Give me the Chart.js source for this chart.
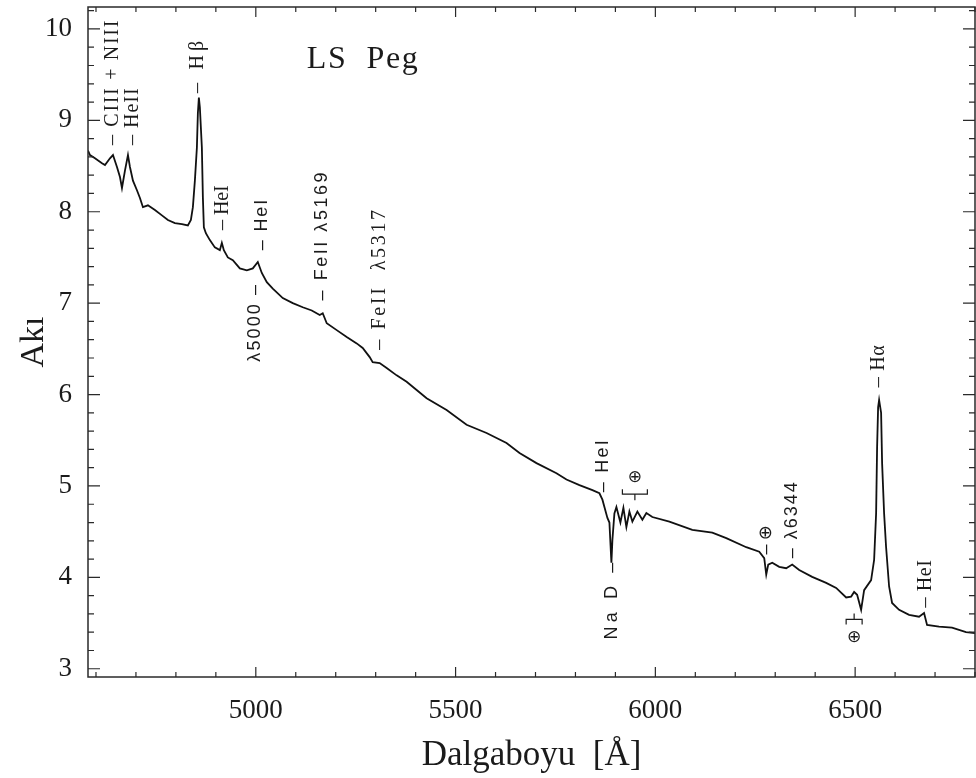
<!DOCTYPE html>
<html>
<head>
<meta charset="utf-8">
<script src="https://cdn.jsdelivr.net/npm/chart.js@4.4.1/dist/chart.umd.min.js"></script>
<style>
  html, body { margin: 0; padding: 0; background: #fff; }
  canvas { display: block; }
</style>
</head>
<body>
<canvas id="spec" width="976" height="778"></canvas>
<script>
// LS Peg optical spectrum: wavelength (Å) and relative flux
const wavelength = [
  4580, 4585, 4597.5, 4615, 4622.5, 4635, 4642.5, 4652.5, 4660, 4665,
  4672.5, 4680, 4685, 4692.5, 4702.5, 4710, 4717.5, 4730, 4747.5, 4765,
  4780, 4797.5, 4815, 4830, 4837.5, 4842.5, 4847.5, 4852.5, 4855, 4857.5,
  4860, 4865, 4867.5, 4870, 4875, 4885, 4897.5, 4910, 4915, 4920,
  4930, 4942.5, 4960, 4977.5, 4992.5, 5005, 5015, 5027.5, 5042.5, 5067.5,
  5092.5, 5117.5, 5140, 5160, 5167.5, 5177.5, 5202.5, 5227.5, 5252.5, 5267.5,
  5285, 5292.5, 5310, 5327.5, 5352.5, 5377.5, 5402.5, 5427.5, 5477.5, 5527.5,
  5577.5, 5627.5, 5660, 5702.5, 5752.5, 5777.5, 5810, 5842.5, 5860, 5867.5,
  5872.5, 5880, 5885, 5890, 5892.5, 5897.5, 5902.5, 5912.5, 5920, 5927.5,
  5935, 5942.5, 5955, 5967.5, 5977.5, 5992.5, 6035, 6092.5, 6142.5, 6177.5,
  6227.5, 6260, 6272.5, 6277.5, 6282.5, 6292.5, 6310, 6327.5, 6342.5, 6360,
  6392.5, 6427.5, 6452.5, 6477.5, 6490, 6497.5, 6505, 6515, 6522.5, 6540,
  6547.5, 6552.5, 6555, 6557.5, 6560, 6562.5, 6565, 6567.5, 6572.5, 6577.5,
  6585, 6592.5, 6610, 6635, 6660, 6672.5, 6680, 6710, 6742.5, 6777.5, 6800
];
const flux = [
  8.67, 8.62, 8.585, 8.53, 8.51, 8.585, 8.62, 8.49, 8.38, 8.26,
  8.45, 8.62, 8.49, 8.34, 8.235, 8.15, 8.05, 8.07, 8.02, 7.96,
  7.91, 7.875, 7.865, 7.85, 7.91, 8.05, 8.34, 8.70, 9.08, 9.25,
  9.14, 8.70, 8.16, 7.83, 7.765, 7.69, 7.61, 7.58, 7.66, 7.58,
  7.50, 7.47, 7.38, 7.36, 7.38, 7.45, 7.33, 7.23, 7.16, 7.055,
  7.00, 6.955, 6.92, 6.87, 6.89, 6.78, 6.705, 6.63, 6.56, 6.51,
  6.41, 6.355, 6.345, 6.29, 6.21, 6.14, 6.05, 5.96, 5.83, 5.67,
  5.58, 5.47, 5.36, 5.25, 5.14, 5.07, 5.01, 4.955, 4.92, 4.85,
  4.77, 4.65, 4.60, 4.16, 4.41, 4.70, 4.77, 4.60, 4.76, 4.55,
  4.72, 4.61, 4.72, 4.63, 4.705, 4.66, 4.61, 4.52, 4.49, 4.43,
  4.33, 4.28, 4.21, 4.03, 4.14, 4.16, 4.115, 4.10, 4.14, 4.08,
  4.005, 3.94, 3.885, 3.78, 3.79, 3.84, 3.81, 3.645, 3.86, 3.97,
  4.19, 4.70, 5.43, 5.86, 5.94, 5.87, 5.80, 5.25, 4.70, 4.33,
  3.90, 3.72, 3.645, 3.59, 3.57, 3.61, 3.48, 3.46, 3.45, 3.40, 3.39
];

// Axis ticks with labels
const xTickLabels = [5000, 5500, 6000, 6500];
const yTickLabels = [3, 4, 5, 6, 7, 8, 9, 10];

// Line identifications: text, wavelength of the column, flux span (start -> end of the rotated text)
const lineIds = [
  { text: '\u2013 CIII + NIII', at: 4642.5, from: 8.73, to: 10.09, serif: true },
  { text: '\u2013 HeII',        at: 4692.5, from: 8.73, to: 9.35,  serif: true },
  { text: '\u2013 H\u03B2',     at: 4855,   from: 9.30, to: 9.87,  serif: true },
  { text: '\u2013 HeI',         at: 4917.5, from: 7.80, to: 8.29,  serif: true },
  { text: '\u2013 HeI',         at: 5015,   from: 7.58, to: 8.13,  serif: false },
  { text: '\u03BB5000 \u2013',  at: 4997.5, from: 6.36, to: 7.20,  serif: false },
  { text: '\u2013 FeII \u03BB5169', at: 5165, from: 7.03, to: 8.43, serif: false },
  { text: '\u2013 FeII  \u03BB5317', at: 5310, from: 6.49, to: 8.02, serif: true },
  { text: '\u2013 HeI',         at: 5870,   from: 4.93, to: 5.50,  serif: false },
  { text: 'Na D \u2013',        at: 5892.5, from: 3.32, to: 4.16,  serif: false },
  { text: '\u2013 \u2295',      at: 6277.5, from: 4.25, to: 4.57,  serif: false },
  { text: '\u2013 \u03BB6344',  at: 6342.5, from: 4.21, to: 5.04,  serif: false },
  { text: '\u2013 H\u03B1',     at: 6560,   from: 6.08, to: 6.54,  serif: true },
  { text: '\u2013 HeI',         at: 6677.5, from: 3.67, to: 4.19,  serif: true }
];

// Telluric band brackets: wavelength range, flux level of the bar, side of the legs
const telluric = [
  { lo: 5917.5, hi: 5980, level: 4.91, legs: -1, mark: 5.09 },
  { lo: 6477.5, hi: 6517.5, level: 3.54, legs: 1, mark: 3.34 }
];

const SERIF = '"Liberation Serif", "Times New Roman", serif';
const SANS = '"Liberation Sans", "DejaVu Sans", Arial, sans-serif';
const INK = '#1b1b1b';

function drawSpaced(ctx, text, length) {
  const chars = Array.from(text);
  const widths = chars.map(c => ctx.measureText(c).width);
  const total = widths.reduce((a, b) => a + b, 0);
  const gap = chars.length > 1 ? (length - total) / (chars.length - 1) : 0;
  let p = 0;
  chars.forEach((c, i) => { ctx.fillText(c, p, 0); p += widths[i] + gap; });
}

// Box with inward ticks on all four sides
const framePlugin = {
  id: 'frame',
  afterDatasetsDraw(chart) {
    const { ctx, chartArea: a, scales: { x, y } } = chart;
    ctx.save();
    ctx.strokeStyle = '#2a2a2a';
    ctx.lineWidth = 1.5;
    ctx.strokeRect(a.left, a.top, a.right - a.left, a.bottom - a.top);
    ctx.lineWidth = 1.2;
    ctx.beginPath();
    for (let w = 4600; w <= 6800; w += 100) {
      const px = x.getPixelForValue(w);
      const len = (w % 500 === 0) ? 10 : 5;
      ctx.moveTo(px, a.bottom); ctx.lineTo(px, a.bottom - len);
      ctx.moveTo(px, a.top); ctx.lineTo(px, a.top + len);
    }
    for (let k = 15; k <= 51; k++) {
      const v = k / 5;
      const py = y.getPixelForValue(v);
      const len = (k % 5 === 0) ? 12 : 6;
      ctx.moveTo(a.left, py); ctx.lineTo(a.left + len, py);
      ctx.moveTo(a.right, py); ctx.lineTo(a.right - len, py);
    }
    ctx.stroke();
    ctx.restore();
  }
};

// Object name and spectral line identifications
const labelPlugin = {
  id: 'lineIds',
  afterDatasetsDraw(chart) {
    const { ctx, scales: { x, y } } = chart;
    ctx.save();
    ctx.fillStyle = INK;
    ctx.strokeStyle = INK;

    // object name
    ctx.font = '32px ' + SERIF;
    ctx.textBaseline = 'alphabetic';
    ctx.textAlign = 'left';
    ctx.save();
    ctx.translate(x.getPixelForValue(5127.5), y.getPixelForValue(9.57));
    drawSpaced(ctx, 'LS  Peg', 111);
    ctx.restore();

    // rotated identifications
    lineIds.forEach(l => {
      const px = x.getPixelForValue(l.at);
      const y0 = y.getPixelForValue(l.from);
      const y1 = y.getPixelForValue(l.to);
      ctx.save();
      ctx.font = l.serif ? ('20px ' + SERIF) : ('18px ' + SANS);
      ctx.translate(px, y0);
      ctx.rotate(-Math.PI / 2);
      ctx.textBaseline = 'middle';
      ctx.textAlign = 'left';
      drawSpaced(ctx, l.text, y0 - y1);
      ctx.restore();
    });

    // telluric brackets
    ctx.lineWidth = 1.2;
    telluric.forEach(t => {
      const xl = x.getPixelForValue(t.lo), xr = x.getPixelForValue(t.hi);
      const xm = (xl + xr) / 2;
      const yb = y.getPixelForValue(t.level);
      const legs = 5 * t.legs;
      const ym = y.getPixelForValue(t.mark);
      ctx.beginPath();
      ctx.moveTo(xl, yb + legs); ctx.lineTo(xl, yb); ctx.lineTo(xr, yb); ctx.lineTo(xr, yb + legs);
      ctx.moveTo(xm, yb); ctx.lineTo(xm, yb - legs * 1.2);
      ctx.stroke();
      ctx.font = '17px ' + SANS;
      ctx.textAlign = 'center';
      ctx.textBaseline = 'middle';
      ctx.fillText('\u2295', xm, ym);
    });
    ctx.restore();
  }
};

const points = wavelength.map((w, i) => ({ x: w, y: flux[i] }));

new Chart(document.getElementById('spec').getContext('2d'), {
  type: 'line',
  data: {
    datasets: [{
      data: points,
      borderColor: '#111',
      borderWidth: 1.8,
      pointRadius: 0,
      tension: 0,
      fill: false
    }]
  },
  options: {
    responsive: false,
    animation: false,
    devicePixelRatio: 1,
    layout: { padding: { top: 7, right: 1, left: 0, bottom: 0 } },
    plugins: { legend: { display: false }, tooltip: { enabled: false } },
    scales: {
      x: {
        type: 'linear',
        min: 4580,
        max: 6800,
        grid: { display: false, drawTicks: false },
        border: { display: false },
        afterBuildTicks: s => { s.ticks = xTickLabels.map(v => ({ value: v })); },
        afterFit: s => {
          s.height = 101;
          s.paddingLeft = 0; s.paddingRight = 0; s.paddingTop = 0; s.paddingBottom = 0;
        },
        ticks: {
          color: INK,
          padding: 18,
          maxRotation: 0,
          font: { family: SERIF, size: 27 },
          callback: v => String(v)
        },
        title: {
          display: true,
          text: 'Dalgaboyu  [\u00C5]',
          color: INK,
          font: { family: SERIF, size: 35 },
          padding: { top: 0, bottom: 1 }
        }
      },
      y: {
        type: 'linear',
        min: 2.91,
        max: 10.24,
        grid: { display: false, drawTicks: false },
        border: { display: false },
        afterBuildTicks: s => { s.ticks = yTickLabels.map(v => ({ value: v })); },
        afterFit: s => {
          s.width = 88;
          s.paddingLeft = 0; s.paddingRight = 0; s.paddingTop = 0; s.paddingBottom = 0;
        },
        ticks: {
          color: INK,
          padding: 16,
          font: { family: SERIF, size: 27 },
          callback: v => String(v)
        },
        title: {
          display: true,
          text: 'Ak\u0131',
          color: INK,
          font: { family: SERIF, size: 34 },
          padding: { top: 14, bottom: 0 }
        }
      }
    }
  },
  plugins: [framePlugin, labelPlugin]
});
</script>
</body>
</html>
